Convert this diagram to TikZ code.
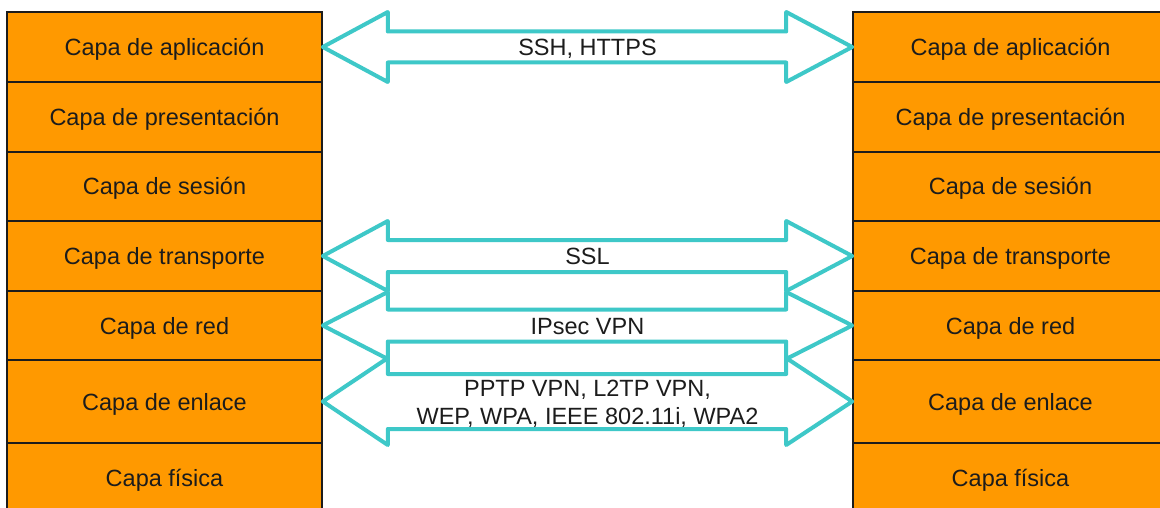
\documentclass[tikz,border=0pt]{standalone}
\usepackage{fontspec}
\setmainfont{Liberation Sans}
\usetikzlibrary{calc}
\definecolor{layerorange}{RGB}{255,153,0}
\definecolor{linkcyan}{RGB}{62,200,200}
\definecolor{inkgray}{RGB}{28,28,28}

% double-headed hollow arrow between two points:
% #1 left tip, #2 right tip, #3 head half-height, #4 shaft half-height
\newcommand\duplexarrow[4]{%
  \draw[linkline] (#1)
    -- ([shift={(65,-#3)}]#1) -- ([shift={(65,-#4)}]#1)
    -- ([shift={(-66,-#4)}]#2) -- ([shift={(-66,-#3)}]#2)
    -- (#2)
    -- ([shift={(-66,#3)}]#2) -- ([shift={(-66,#4)}]#2)
    -- ([shift={(65,#4)}]#1) -- ([shift={(65,#3)}]#1)
    -- cycle;}

\begin{document}
\begin{tikzpicture}[x=1pt,y=-1pt,
  font=\fontsize{23.5}{28}\selectfont,
  layerbox/.style={draw=inkgray, line width=1.6, fill=layerorange,
    minimum width=315, inner sep=0pt, text=inkgray,
    text height=17pt, text depth=0pt},
  linkline/.style={draw=linkcyan, line width=4, line join=round},
  linklabel/.style={text=inkgray, inner sep=0pt, align=center}]
\useasboundingbox (0,0) rectangle (1160,508);
\clip (0,0) rectangle (1160,508);
\fill[white] (0,0) rectangle (1160,508);

% protocol stack, left host
\node[layerbox, minimum height=70] (L1) at (164.5,47)   {Capa de aplicación};
\node[layerbox, minimum height=70] (L2) at (164.5,117)  {Capa de presentación};
\node[layerbox, minimum height=69] (L3) at (164.5,186.5){Capa de sesión};
\node[layerbox, minimum height=70] (L4) at (164.5,256)  {Capa de transporte};
\node[layerbox, minimum height=69] (L5) at (164.5,325.5){Capa de red};
\node[layerbox, minimum height=83] (L6) at (164.5,401.5){Capa de enlace};
\node[layerbox, minimum height=70] (L7) at (164.5,478)  {Capa física};

% protocol stack, right host
\node[layerbox, minimum height=70] (R1) at (1010.5,47)   {Capa de aplicación};
\node[layerbox, minimum height=70] (R2) at (1010.5,117)  {Capa de presentación};
\node[layerbox, minimum height=69] (R3) at (1010.5,186.5){Capa de sesión};
\node[layerbox, minimum height=70] (R4) at (1010.5,256)  {Capa de transporte};
\node[layerbox, minimum height=69] (R5) at (1010.5,325.5){Capa de red};
\node[layerbox, minimum height=83] (R6) at (1010.5,401.5){Capa de enlace};
\node[layerbox, minimum height=70] (R7) at (1010.5,478)  {Capa física};

% secured peer links
\duplexarrow{L1.east}{R1.west}{35}{15.5}
\duplexarrow{L4.east}{R4.west}{35}{16}
\duplexarrow{L5.east}{R5.west}{33.5}{16}
\duplexarrow{L6.east}{R6.west}{43.5}{27.5}

\node[linklabel, text height=17pt, text depth=0pt] (t1)
  at ($(L1.east)!0.5!(R1.west)$) {SSH, HTTPS};
\node[linklabel, text height=17pt, text depth=0pt] (t4)
  at ($(L4.east)!0.5!(R4.west)$) {SSL};
\node[linklabel, text height=17pt, text depth=0pt] (t5)
  at ($(L5.east)!0.5!(R5.west)$) {IPsec VPN};
\node[linklabel, yshift=-2] (t6) at ($(L6.east)!0.5!(R6.west)$)
  {PPTP VPN, L2TP VPN,\\WEP, WPA, IEEE 802.11i, WPA2};
\end{tikzpicture}
\end{document}
